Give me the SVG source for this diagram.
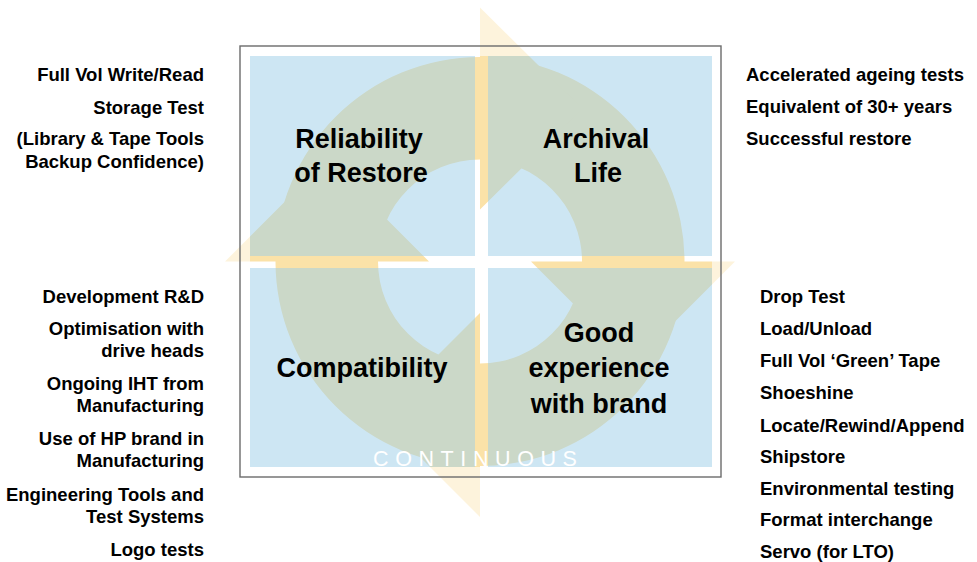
<svg xmlns="http://www.w3.org/2000/svg" width="977" height="562" viewBox="0 0 977 562">
  <style>
    .quad { fill: rgb(155,205,231); fill-opacity: 0.5; }
    .arrow { fill: #fbe2a8; }
    .lbl { font-family: "Liberation Sans", Arial, sans-serif; font-weight: bold; font-size: 27px; fill: #000; text-anchor: middle; }
    .side { font-family: "Liberation Sans", Arial, sans-serif; font-weight: bold; font-size: 18.5px; fill: #000; }
    .r { text-anchor: end; }
    .l { text-anchor: start; }
    .cont { font-family: "Liberation Sans", Arial, sans-serif; font-size: 21.5px; fill: #fff; letter-spacing: 6.6px; }
  </style>
  <rect x="0" y="0" width="977" height="562" fill="#ffffff"/>

  <g id="cycle-arrow">
    <path class="arrow" fill-rule="evenodd" d="M 275.5 261.5 A 204.5 204.5 0 1 0 684.5 261.5 A 204.5 204.5 0 1 0 275.5 261.5 Z M 378 261.5 A 102 102 0 1 1 582 261.5 A 102 102 0 1 1 378 261.5 Z"/>
    <polygon class="arrow" points="480,7.5 582,108.5 480,209.5"/>
    <polygon class="arrow" points="531,261.5 735,261.5 633,363.5"/>
    <polygon class="arrow" points="480,313 480,517 378,415"/>
    <polygon class="arrow" points="225,261.5 429,261.5 327,159.5"/>
  </g>

  <g id="quad-reliability">
    <rect class="quad" x="250" y="56" width="225" height="200"/>
  </g>
  <g id="quad-archival">
    <rect class="quad" x="488" y="56" width="224" height="200"/>
  </g>
  <g id="quad-compatibility">
    <rect class="quad" x="250" y="268" width="225" height="199"/>
  </g>
  <g id="quad-experience">
    <rect class="quad" x="488" y="268" width="224" height="199"/>
  </g>

  <path fill="#ffffff" fill-opacity="0.6" fill-rule="evenodd" d="M0 0 H977 V562 H0 Z M250 56 V467 H712 V56 Z"/>

  <rect id="frame" x="240" y="46" width="481" height="431" fill="none" stroke="#6b6b6b" stroke-width="1.4"/>

  <g id="label-reliability">
    <text class="lbl" x="359" y="148">Reliability</text>
    <text class="lbl" x="361" y="182">of Restore</text>
  </g>
  <g id="label-archival">
    <text class="lbl" x="596" y="148">Archival</text>
    <text class="lbl" x="598" y="182">Life</text>
  </g>
  <g id="label-compatibility">
    <text class="lbl" x="362" y="377">Compatibility</text>
  </g>
  <g id="label-experience">
    <text class="lbl" x="599" y="342">Good</text>
    <text class="lbl" x="599" y="377">experience</text>
    <text class="lbl" x="599" y="413">with brand</text>
  </g>

  <text id="continuous" class="cont" x="373" y="466">CONTINUOUS</text>

  <g id="notes-reliability">
    <text class="side r" x="204" y="81">Full Vol Write/Read</text>
    <text class="side r" x="204" y="114">Storage Test</text>
    <text class="side r" x="204" y="145">(Library &amp; Tape Tools</text>
    <text class="side r" x="204" y="168">Backup Confidence)</text>
  </g>
  <g id="notes-archival">
    <text class="side l" x="746" y="81">Accelerated ageing tests</text>
    <text class="side l" x="746" y="113">Equivalent of 30+ years</text>
    <text class="side l" x="746" y="145">Successful restore</text>
  </g>
  <g id="notes-compatibility">
    <text class="side r" x="204" y="303">Development R&amp;D</text>
    <text class="side r" x="204" y="335">Optimisation with</text>
    <text class="side r" x="204" y="357">drive heads</text>
    <text class="side r" x="204" y="390">Ongoing IHT from</text>
    <text class="side r" x="204" y="412">Manufacturing</text>
    <text class="side r" x="204" y="445">Use of HP brand in</text>
    <text class="side r" x="204" y="467">Manufacturing</text>
    <text class="side r" x="204" y="501">Engineering Tools and</text>
    <text class="side r" x="204" y="523">Test Systems</text>
    <text class="side r" x="204" y="556">Logo tests</text>
  </g>
  <g id="notes-experience">
    <text class="side l" x="760" y="303">Drop Test</text>
    <text class="side l" x="760" y="335">Load/Unload</text>
    <text class="side l" x="760" y="367">Full Vol ‘Green’ Tape</text>
    <text class="side l" x="760" y="399">Shoeshine</text>
    <text class="side l" x="760" y="432">Locate/Rewind/Append</text>
    <text class="side l" x="760" y="463">Shipstore</text>
    <text class="side l" x="760" y="495">Environmental testing</text>
    <text class="side l" x="760" y="526">Format interchange</text>
    <text class="side l" x="760" y="558">Servo (for LTO)</text>
  </g>
</svg>
